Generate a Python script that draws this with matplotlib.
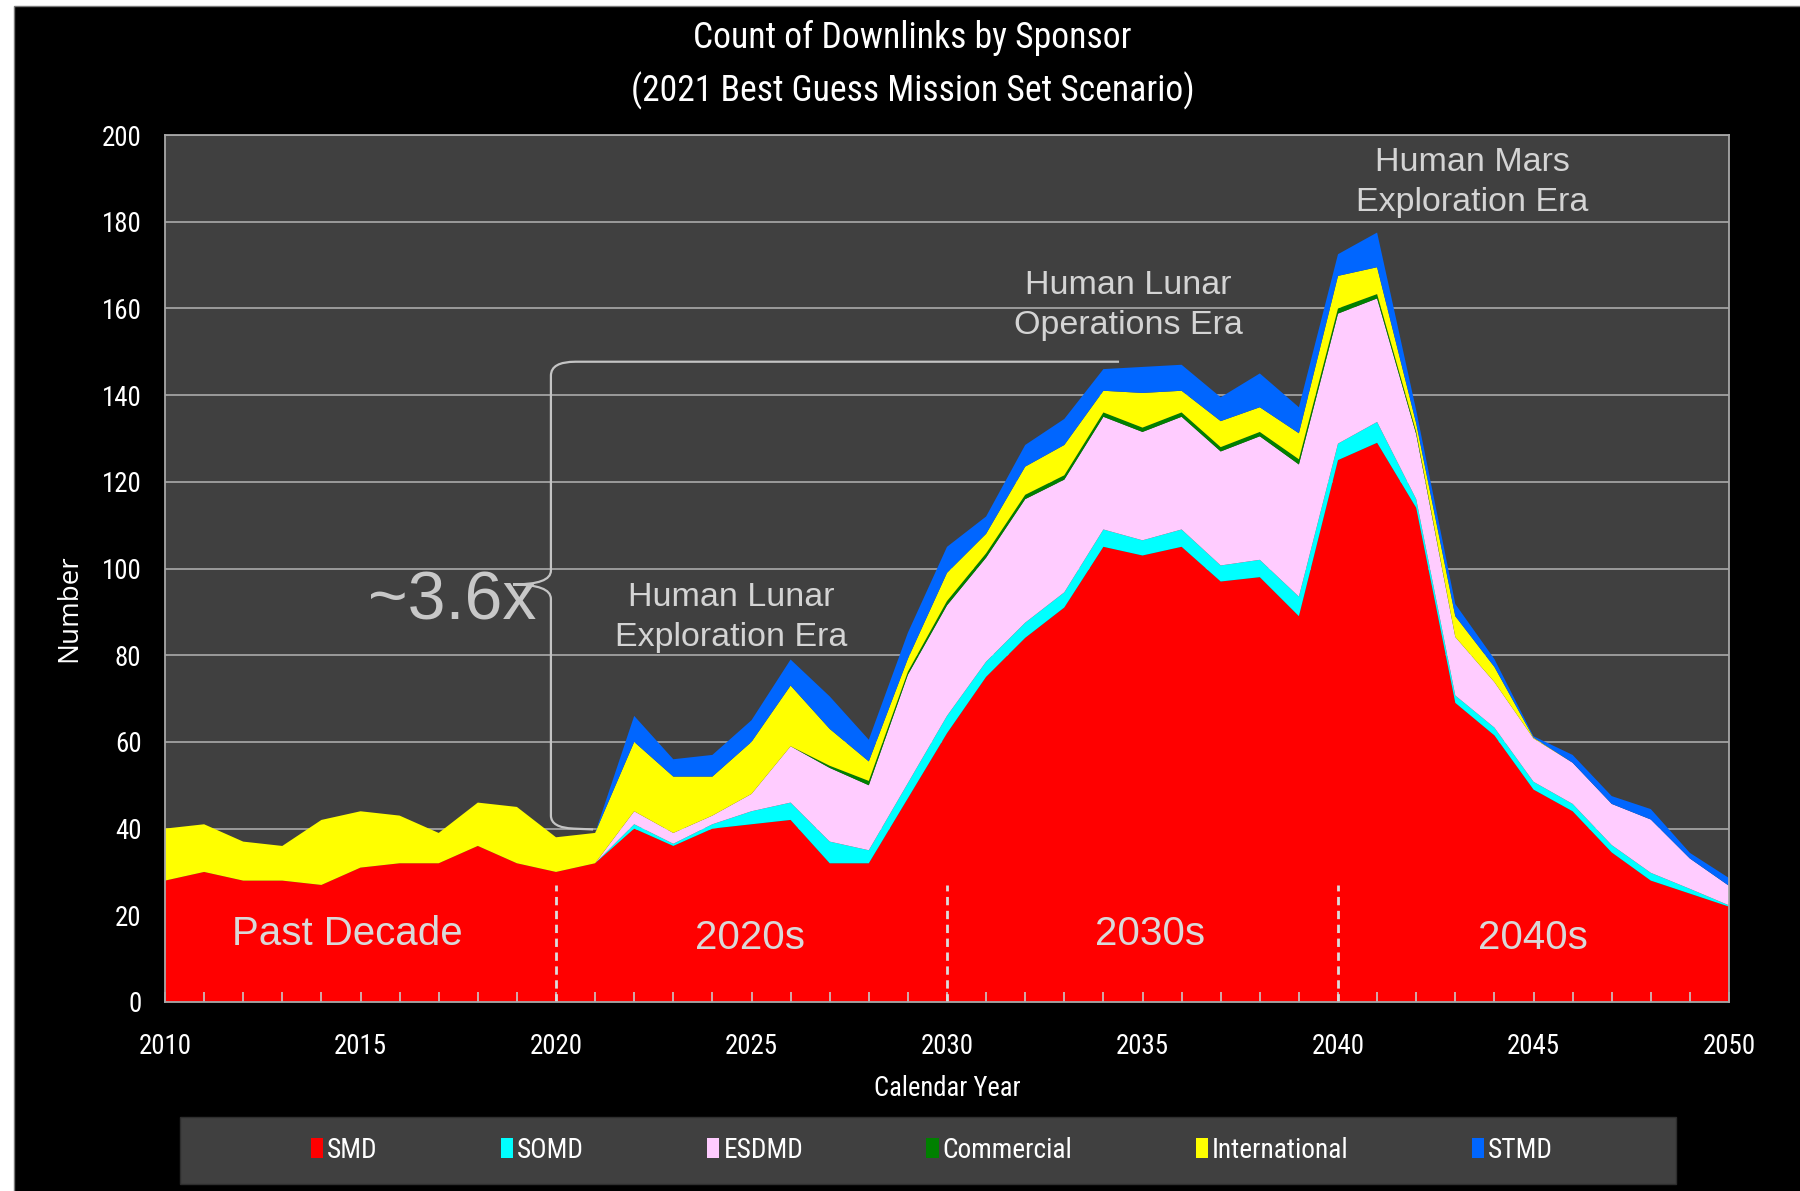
import matplotlib
matplotlib.use("Agg")
import matplotlib.pyplot as plt
from matplotlib import font_manager
from matplotlib.patches import Rectangle, Patch, PathPatch
from matplotlib.path import Path

years = list(range(2010, 2051))

smd = [28, 30, 28, 28, 27, 31, 32, 32, 36, 32, 30, 32,
       40, 36, 40, 41, 42, 32, 32, 47, 62, 75, 84, 91, 105, 103, 105, 97, 98, 89,
       125, 129, 114, 69, 61.5, 49, 44, 34.5, 28, 25, 22]
somd = [0, 0, 0, 0, 0, 0, 0, 0, 0, 0, 0, 0,
        1, 0.5, 1, 3, 4, 5, 3, 3.5, 4, 3.5, 3.5, 3.5, 4, 3.5, 4, 3.7, 4, 4.5,
        3.8, 4.8, 2, 1.7, 1.8, 1.8, 1.7, 1.7, 1.8, 1.1, 0.3]
esdmd = [0, 0, 0, 0, 0, 0, 0, 0, 0, 0, 0, 0,
         3, 2.5, 2, 4, 13, 17, 15, 25, 25.5, 24, 28.5, 26, 26, 25, 26, 26.3, 28.5, 30.5,
         30, 28.5, 15, 13.5, 10.5, 10, 9.5, 9.5, 12.3, 7, 4.5]
commercial = [0, 0, 0, 0, 0, 0, 0, 0, 0, 0, 0, 0,
              0, 0, 0, 0, 0, 0.5, 1, 0.7, 1, 1, 1, 1, 1, 1, 1, 1, 1, 1.2,
              1.2, 1, 0.5, 0, 0, 0, 0, 0, 0, 0, 0]
international = [12, 11, 9, 8, 15, 13, 11, 7, 10, 13, 8, 7,
                 16, 13, 9, 12, 14, 8.5, 4.5, 3, 6.5, 4.5, 6.5, 7, 5, 8, 5, 6, 5.7, 6,
                 7.5, 6.2, 2, 4.8, 3.5, 0.2, 0, 0, 0, 0, 0]
stmd = [0, 0, 0, 0, 0, 0, 0, 0, 0, 0, 0, 0,
        6, 4, 5, 5, 6, 7.5, 5, 6, 6, 4, 5, 6, 5, 6, 6, 5.5, 7.8, 6,
        5, 8, 3, 2.8, 1.8, 0.3, 1.8, 1.8, 2.4, 1.3, 1.8]

series_names = ["SMD", "SOMD", "ESDMD", "Commercial", "International", "STMD"]
series_colors = ["#FF0000", "#00FFFF", "#FFCCFF", "#008000", "#FFFF00", "#0066FF"]

y_ticks = list(range(0, 201, 20))
x_major = list(range(2010, 2051, 5))
decade_lines = [2020, 2030, 2040]
decade_labels = ["Past Decade", "2020s", "2030s", "2040s"]
decade_label_x = [2014.65, 2024.95, 2035.2, 2044.98]
decade_label_y = [15.7, 14.8, 15.7, 14.8]
era_labels = ["Human Lunar\nExploration Era", "Human Lunar\nOperations Era", "Human Mars\nExploration Era"]
era_x = [2024.48, 2034.63, 2043.43]
era_y = [88.6, 160.6, 189.0]

# pick a narrow (Calibri-like) font if one is installed
available = {f.name for f in font_manager.fontManager.ttflist}
narrow_choices = [("Liberation Sans Narrow", 0.71), ("Roboto Condensed", 0.72),
                  ("Open Sans Condensed", 0.75), ("Lato", 0.86)]
narrow_name, ratio = "DejaVu Sans", 1.0
for nm, r in narrow_choices:
    if nm in available:
        narrow_name, ratio = nm, r
        break
NARROW = [narrow_name, "DejaVu Sans"]
ARIAL = ["Liberation Sans", "DejaVu Sans"]

def sz(base, want):
    return base * want / ratio

title_size = sz(25, 0.74)
tick_size = sz(20, 0.70) if narrow_name != "Lato" else 16.5
legend_size = sz(20, 0.71)
xlabel_size = sz(20, 0.69)

fig = plt.figure(figsize=(18, 11.91), dpi=100, facecolor="white")
fig.patches.append(Rectangle((14 / 1800, -0.01), 1.0, 1 - 6 / 1191 + 0.01,
                             transform=fig.transFigure, facecolor="black",
                             edgecolor="#7a7a7a", linewidth=1, zorder=-10))

ax = fig.add_axes([165 / 1800, 1 - 1002 / 1191, 1564 / 1800, 867 / 1191])
ax.set_facecolor("#404040")

for yv in y_ticks[1:]:
    ax.axhline(yv, color="#b4b4b4", lw=1.1, zorder=0.5)

ax.stackplot(years, smd, somd, esdmd, commercial, international, stmd,
             colors=series_colors, zorder=1, linewidth=0)

for xv in decade_lines:
    ax.plot([xv, xv], [0, 27], color="#dcdcdc", lw=2, ls=(0, (3, 2)), zorder=3)

for lab, xv, yv in zip(decade_labels, decade_label_x, decade_label_y):
    ax.text(xv, yv, lab, ha="center", va="center", fontsize=29,
            color="#d9d9d9", family=ARIAL, zorder=4)

for lab, xv, yv in zip(era_labels, era_x, era_y):
    ax.text(xv, yv, lab, ha="center", va="center", fontsize=24.5,
            color="#d4d4d4", family=ARIAL, zorder=4, linespacing=1.38)

ax.text(2017.34, 92.4, "~3.6x", ha="center", va="center", fontsize=49,
        color="#c8c8c8", family=ARIAL, zorder=4)

bx = 2019.87
verts = [(2034.4, 147.7), (2020.5, 147.7), (bx, 147.7), (bx, 144.5),
         (bx, 99.5), (bx, 96.3), (2018.9, 96.3), (bx, 96.3), (bx, 93.0),
         (bx, 43.0), (bx, 40.2), (2020.45, 40.0), (2020.95, 39.8)]
codes = [Path.MOVETO, Path.LINETO, Path.CURVE3, Path.CURVE3,
         Path.LINETO, Path.CURVE3, Path.CURVE3, Path.CURVE3, Path.CURVE3,
         Path.LINETO, Path.CURVE3, Path.CURVE3, Path.LINETO]
ax.add_patch(PathPatch(Path(verts, codes), facecolor="none", edgecolor="#c4c4c4",
                       lw=1.6, zorder=4))

ax.set_xlim(2010, 2050)
ax.set_ylim(0, 200)
ax.set_xticks(x_major)
ax.set_xticks(years, minor=True)
ax.set_yticks(y_ticks)
ax.tick_params(axis="x", which="both", direction="in", length=7.5, width=1.2,
               color="#c8c8c8", labelcolor="white", labelsize=tick_size, pad=22)
ax.tick_params(axis="y", length=0, labelcolor="white", labelsize=tick_size, pad=17)
for lbl in ax.get_xticklabels() + ax.get_yticklabels():
    lbl.set_family(NARROW)
ax.set_axisbelow(False)
for sp in ax.spines.values():
    sp.set_color("#a8a8a8")
    sp.set_linewidth(1.3)
    sp.set_zorder(5)

ax.set_xlabel("Calendar Year", color="white", fontsize=xlabel_size, family=NARROW)
ax.xaxis.set_label_coords(0.5, -0.084)
ax.set_ylabel("Number", color="white", fontsize=20, family=["Open Sans", "DejaVu Sans"])
ax.yaxis.set_label_coords(-0.052, 0.454)

fig.text(0.507, 1 - 38 / 1191, "Count of Downlinks by Sponsor", ha="center", va="center",
         fontsize=title_size, color="white", family=NARROW)
fig.text(0.507, 1 - 91 / 1191, "(2021 Best Guess Mission Set Scenario)", ha="center",
         va="center", fontsize=title_size, color="white", family=NARROW)

fig.patches.append(Rectangle((180 / 1800, 1 - 1184 / 1191), 1496 / 1800, 67 / 1191,
                             transform=fig.transFigure, facecolor="#404040",
                             edgecolor="#2e2e2e", linewidth=1, zorder=-5))
handles = [Patch(facecolor=c, edgecolor="none", label=n)
           for n, c in zip(series_names, series_colors)]
colspace_px = 123
leg = fig.legend(handles=handles, loc="center", ncol=6, frameon=False,
                 bbox_to_anchor=(932 / 1800, 1 - 1150 / 1191),
                 bbox_transform=fig.transFigure,
                 columnspacing=colspace_px / (legend_size * 100 / 72),
                 handlelength=0.45, handleheight=0.8,
                 handletextpad=0.15, labelcolor="white",
                 prop={"family": NARROW, "size": legend_size})

fig.savefig("out.png", dpi=100, facecolor=fig.get_facecolor())
